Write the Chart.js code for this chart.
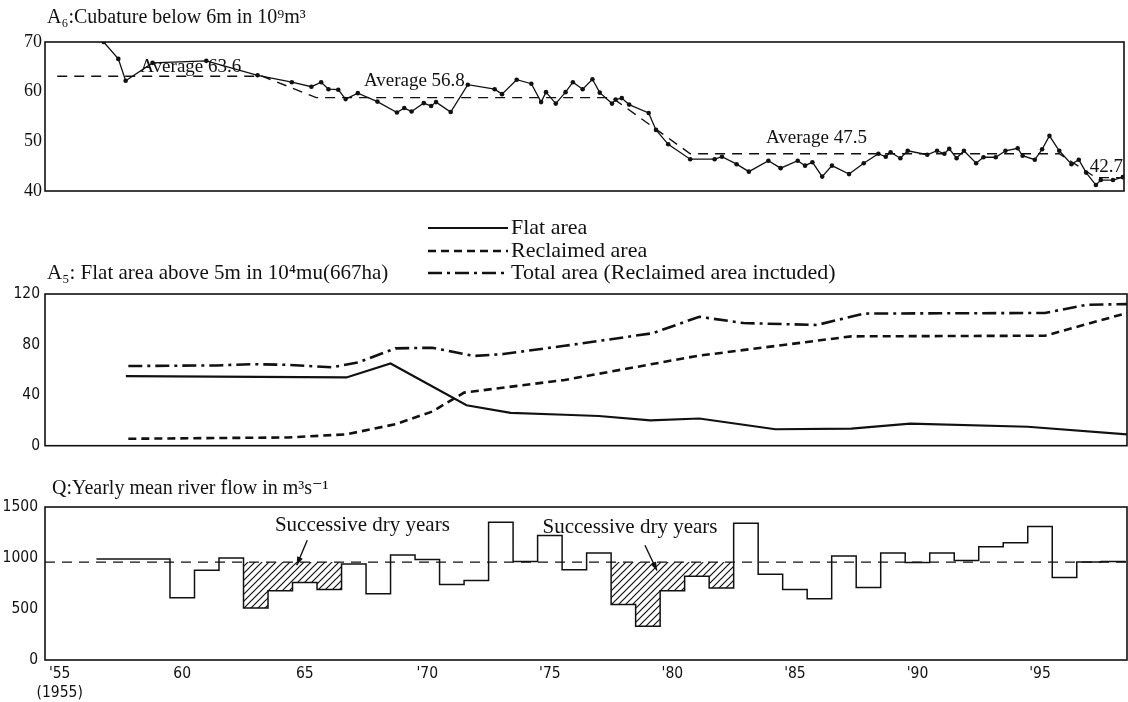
<!DOCTYPE html>
<html>
<head>
<meta charset="utf-8">
<script src="https://cdn.jsdelivr.net/npm/chart.js@4.4.1/dist/chart.umd.min.js"></script>
<style>
  body { margin: 0; background: #fff; width: 1128px; height: 702px; position: relative; overflow: hidden; }
  canvas { position: absolute; left: 0; }
</style>
</head>
<body>
<canvas id="cubChart" width="1128" height="205" style="top:0"></canvas>
<canvas id="areaChart" width="1128" height="255" style="top:205px"></canvas>
<canvas id="flowChart" width="1128" height="242" style="top:460px"></canvas>
<script>
// ---- data ----
// A6: cubature below 6 m (10^9 m3)
const cubYears = [1956.8, 1957.4, 1957.7, 1958.8, 1961.0, 1963.1, 1964.5, 1965.3, 1965.7, 1966.0,
  1966.4, 1966.7, 1967.2, 1968.0, 1968.8, 1969.1, 1969.4, 1969.9, 1970.2, 1970.4,
  1971.0, 1971.7, 1972.8, 1973.1, 1973.7, 1974.3, 1974.7, 1974.9, 1975.3, 1975.7,
  1976.0, 1976.4, 1976.8, 1977.1, 1977.6, 1977.75, 1978.0, 1978.3, 1979.1, 1979.4,
  1979.9, 1980.8, 1981.8, 1982.1, 1982.7, 1983.2, 1984.0, 1984.5, 1985.2, 1985.5,
  1985.8, 1986.2, 1986.6, 1987.3, 1987.9, 1988.5, 1988.8, 1989.0, 1989.4, 1989.7,
  1990.5, 1990.9, 1991.2, 1991.4, 1991.7, 1992.0, 1992.5, 1992.8, 1993.3, 1993.7,
  1994.2, 1994.4, 1994.9, 1995.2, 1995.5, 1995.9, 1996.4, 1996.7, 1997.0, 1997.4,
  1997.6, 1998.1, 1998.5];
const cubValues = [70.0, 66.6, 62.2, 65.8, 66.2, 63.3, 61.9, 61.0, 61.9, 60.5,
  60.4, 58.5, 59.7, 58.0, 55.8, 56.7, 56.0, 57.7, 57.1, 57.9,
  55.9, 61.4, 60.5, 59.5, 62.4, 61.6, 57.9, 59.9, 57.6, 59.9,
  61.9, 60.5, 62.5, 59.8, 57.6, 58.4, 58.7, 57.4, 55.7, 52.3,
  49.4, 46.4, 46.4, 46.9, 45.4, 43.9, 46.1, 44.6, 46.1, 45.1,
  45.8, 42.9, 45.1, 43.4, 45.6, 47.5, 46.9, 47.8, 46.6, 48.1,
  47.3, 48.1, 47.5, 48.5, 46.6, 48.1, 45.6, 46.8, 46.8, 48.1,
  48.6, 47.1, 46.3, 48.4, 51.1, 48.1, 45.4, 46.3, 43.7, 41.2,
  42.2, 42.2, 42.8];
const cubAvgYears = [1954.9, 1963.3, 1965.5, 1977.6, 1980.8, 1995.9, 1997.4, 1998.55];
const cubAvgValues = [63.1, 63.1, 58.8, 58.8, 47.5, 47.5, 42.7, 42.7];
const cubAvgLabels = ['Average 63.6', 'Average 56.8', 'Average 47.5', '42.7'];
const cubTicks = [40, 50, 60, 70];

// A5: flat area above 5 m (10^4 mu)
const flatYears = [1957.7, 1966.7, 1968.5, 1971.6, 1973.4, 1975.6, 1977.0, 1979.1, 1981.1, 1984.2, 1987.3, 1989.7, 1994.5, 1998.55];
const flatValues = [55, 54, 65, 32, 26, 24.5, 23.5, 20, 21.5, 13, 13.5, 17.5, 15, 9];
const reclYears = [1957.8, 1964.3, 1966.7, 1968.7, 1970.2, 1971.5, 1975.6, 1981.0, 1987.3, 1995.2, 1998.55];
const reclValues = [5.5, 6.5, 9, 17, 27, 42, 52, 71, 86.5, 87, 105];
const totalYears = [1957.8, 1961.4, 1962.8, 1964.3, 1966.1, 1967.2, 1968.7, 1970.2, 1971.9, 1973.1,
  1975.6, 1979.2, 1981.1, 1982.9, 1985.9, 1987.8, 1995.2, 1996.9, 1998.55];
const totalValues = [63, 63.5, 64.5, 64, 62, 66, 77, 77.5, 71, 72.5,
  79, 89, 102, 97, 95.5, 104.5, 105, 111.5, 112];
const areaLabels = ['Flat area', 'Reclaimed area', 'Total area (Reclaimed area inctuded)'];
const areaTicks = [0, 40, 80, 120];

// Q: yearly mean river flow (m3/s)
const flowYears = [1957, 1958, 1959, 1960, 1961, 1962, 1963, 1964, 1965, 1966,
  1967, 1968, 1969, 1970, 1971, 1972, 1973, 1974, 1975, 1976,
  1977, 1978, 1979, 1980, 1981, 1982, 1983, 1984, 1985, 1986,
  1987, 1988, 1989, 1990, 1991, 1992, 1993, 1994, 1995, 1996, 1997, 1998];
const flowValues = [990, 990, 990, 610, 880, 1000, 510, 680, 760, 690,
  940, 650, 1030, 985, 740, 780, 1350, 965, 1220, 885,
  1050, 545, 330, 680, 820, 705, 1340, 840, 690, 600,
  1020, 710, 1050, 955, 1050, 975, 1110, 1150, 1310, 810, 960, 965];
const flowMean = 960;
const drySpells = [[1963, 1966], [1978, 1982]];
const drySpellLabel = 'Successive dry years';
const flowTicks = [0, 500, 1000, 1500];

const xTickYears = [1955, 1960, 1965, 1970, 1975, 1980, 1985, 1990, 1995];
const xTickLabels = ["'55", '60', '65', "'70", "'75", "'80", "'85", "'90", "'95"];
const firstYearNote = '(1955)';

// ---- styling ----
const X_MIN = 1954.4, X_MAX = 1998.55;
const INK = '#111';
const SERIF = "'Liberation Serif', 'DejaVu Serif', serif";
const NARROW = "'Liberation Sans Narrow', 'DejaVu Sans Condensed', sans-serif";

Chart.defaults.animation = false;
Chart.defaults.color = INK;

function pts(xs, ys) { return xs.map((x, i) => ({ x: x, y: ys[i] })); }

// each year drawn as a flat step from y-0.5 to y+0.5
function stepPoints(years, values) {
  const out = [];
  years.forEach((yr, i) => { out.push({ x: yr - 0.5, y: values[i] }, { x: yr + 0.5, y: values[i] }); });
  return out;
}

function makeHatch() {
  const c = document.createElement('canvas');
  c.width = 7; c.height = 7;
  const g = c.getContext('2d');
  g.strokeStyle = INK; g.lineWidth = 1.2;
  g.beginPath();
  g.moveTo(-1, 8); g.lineTo(8, -1);
  g.moveTo(-1, 1); g.lineTo(1, -1);
  g.moveTo(6, 8); g.lineTo(8, 6);
  g.stroke();
  return g.createPattern(c, 'repeat');
}

// box around the plot area
const framePlugin = {
  id: 'frame',
  afterDatasetsDraw(chart) {
    const { ctx, chartArea: a } = chart;
    ctx.save();
    ctx.strokeStyle = INK;
    ctx.lineWidth = 1.6;
    ctx.strokeRect(a.left, a.top, a.right - a.left, a.bottom - a.top);
    ctx.restore();
  }
};

// free texts, arrows and the hand-made legend
const notesPlugin = {
  id: 'notes',
  afterDraw(chart, args, opts) {
    const ctx = chart.ctx;
    const xs = chart.scales.x, ys = chart.scales.y;
    ctx.save();
    ctx.fillStyle = INK;
    ctx.strokeStyle = INK;
    ctx.textBaseline = 'middle';
    (opts.texts || []).forEach(t => {
      const px = t.x !== undefined ? xs.getPixelForValue(t.x) : t.px;
      const py = t.y !== undefined ? ys.getPixelForValue(t.y) : t.py;
      ctx.font = t.font;
      ctx.textAlign = t.align || 'left';
      ctx.fillText(t.text, px, py);
    });
    (opts.arrows || []).forEach(a => {
      const x1 = xs.getPixelForValue(a.from[0]), y1 = ys.getPixelForValue(a.from[1]);
      const x2 = xs.getPixelForValue(a.to[0]), y2 = ys.getPixelForValue(a.to[1]);
      const ang = Math.atan2(y2 - y1, x2 - x1);
      ctx.lineWidth = 1.4;
      ctx.beginPath(); ctx.moveTo(x1, y1); ctx.lineTo(x2, y2); ctx.stroke();
      ctx.beginPath();
      ctx.moveTo(x2, y2);
      ctx.lineTo(x2 - 9 * Math.cos(ang - 0.35), y2 - 9 * Math.sin(ang - 0.35));
      ctx.lineTo(x2 - 9 * Math.cos(ang + 0.35), y2 - 9 * Math.sin(ang + 0.35));
      ctx.closePath(); ctx.fill();
    });
    if (opts.legend) {
      const L = opts.legend;
      chart.data.datasets.forEach((ds, i) => {
        const y = L.rows[i];
        ctx.lineWidth = ds.borderWidth;
        ctx.setLineDash(ds.borderDash || []);
        ctx.beginPath(); ctx.moveTo(L.x0, y); ctx.lineTo(L.x1, y); ctx.stroke();
        ctx.setLineDash([]);
        ctx.font = L.font;
        ctx.textAlign = 'left';
        ctx.fillText(ds.label, L.x1 + 3, y);
      });
    }
    ctx.restore();
  }
};

function xAxis(show) {
  const axis = {
    type: 'linear', min: X_MIN, max: X_MAX, display: show,
    grid: { display: false, drawTicks: false },
    border: { display: false },
    afterBuildTicks: s => { s.ticks = xTickYears.map(v => ({ value: v })); },
    ticks: {
      autoSkip: false, maxRotation: 0, padding: 5,
      font: { family: NARROW, size: 15.5 },
      callback: v => {
        const i = xTickYears.indexOf(v);
        return i === 0 ? [xTickLabels[0], firstYearNote] : xTickLabels[i];
      }
    }
  };
  if (show) axis.afterFit = s => { s.height = 42; };
  return axis;
}

function yAxis(min, max, tickList, font, pad) {
  return {
    min: min, max: max,
    grid: { display: false, drawTicks: false },
    border: { display: false },
    afterBuildTicks: s => { s.ticks = tickList.map(v => ({ value: v })); },
    afterFit: s => { s.width = 45; },
    ticks: { padding: pad, font: font, callback: v => String(v) }
  };
}

const basePlugins = { legend: { display: false }, tooltip: { enabled: false } };

// ---- A6 cubature ----
new Chart(document.getElementById('cubChart'), {
  type: 'scatter',
  data: {
    datasets: [
      {
        data: pts(cubYears, cubValues), showLine: true,
        borderColor: INK, borderWidth: 1.3,
        pointRadius: 2.3, pointBackgroundColor: INK, pointBorderWidth: 0
      },
      {
        data: pts(cubAvgYears, cubAvgValues), showLine: true,
        borderColor: INK, borderWidth: 1.4, borderDash: [10, 7], pointRadius: 0
      }
    ]
  },
  options: {
    responsive: false,
    layout: { padding: { top: 42, bottom: 14, right: 1, left: 0 } },
    scales: {
      x: xAxis(false),
      y: yAxis(40, 70, cubTicks, { family: SERIF, size: 18 }, 3)
    },
    plugins: {
      ...basePlugins,
      notes: {
        texts: [
          { text: 'A₆:Cubature below 6m in 10⁹m³', px: 47, py: 18, font: '20px ' + SERIF },
          { text: cubAvgLabels[0], x: 1958.3, y: 65.0, font: '19px ' + SERIF },
          { text: cubAvgLabels[1], x: 1967.45, y: 62.2, font: '19px ' + SERIF },
          { text: cubAvgLabels[2], x: 1983.9, y: 50.7, font: '19px ' + SERIF },
          { text: cubAvgLabels[3], x: 1997.15, y: 44.8, font: '19px ' + SERIF }
        ]
      }
    }
  },
  plugins: [framePlugin, notesPlugin]
});

// ---- A5 flat / reclaimed / total area ----
new Chart(document.getElementById('areaChart'), {
  type: 'scatter',
  data: {
    datasets: [
      { label: areaLabels[0], data: pts(flatYears, flatValues), showLine: true,
        borderColor: INK, borderWidth: 2.2, pointRadius: 0 },
      { label: areaLabels[1], data: pts(reclYears, reclValues), showLine: true,
        borderColor: INK, borderWidth: 2.6, borderDash: [8, 5], pointRadius: 0 },
      { label: areaLabels[2], data: pts(totalYears, totalValues), showLine: true,
        borderColor: INK, borderWidth: 2.6, borderDash: [14, 5, 3, 5], pointRadius: 0 }
    ]
  },
  options: {
    responsive: false,
    layout: { padding: { top: 89, bottom: 13, right: 1, left: 0 } },
    scales: {
      x: xAxis(false),
      y: yAxis(0, 120, areaTicks, { family: NARROW, size: 15.5 }, 5)
    },
    plugins: {
      ...basePlugins,
      notes: {
        texts: [
          { text: 'A₅: Flat area above 5m in 10⁴mu(667ha)', px: 47, py: 68, font: '21px ' + SERIF }
        ],
        legend: { x0: 428, x1: 508, rows: [23, 46, 68], font: '22px ' + SERIF }
      }
    }
  },
  plugins: [framePlugin, notesPlugin]
});

// ---- Q yearly mean river flow ----
const hatch = makeHatch();
const dryDatasets = drySpells.map(([a, b]) => {
  const yrs = flowYears.filter(y => y >= a && y <= b);
  const vals = yrs.map(y => flowValues[flowYears.indexOf(y)]);
  return {
    data: stepPoints(yrs, vals), showLine: true,
    borderWidth: 0, borderColor: 'rgba(0,0,0,0)', pointRadius: 0,
    backgroundColor: hatch, fill: { value: flowMean }
  };
});

new Chart(document.getElementById('flowChart'), {
  type: 'scatter',
  data: {
    datasets: [
      ...dryDatasets,
      { data: stepPoints(flowYears, flowValues), showLine: true,
        borderColor: INK, borderWidth: 1.5, pointRadius: 0 },
      { data: [{ x: X_MIN, y: flowMean }, { x: X_MAX, y: flowMean }], showLine: true,
        borderColor: INK, borderWidth: 1.4, borderDash: [10, 7], pointRadius: 0 }
    ]
  },
  options: {
    responsive: false,
    layout: { padding: { top: 47, bottom: 0, right: 1, left: 0 } },
    scales: {
      x: xAxis(true),
      y: yAxis(0, 1500, flowTicks, { family: NARROW, size: 15.5 }, 7)
    },
    plugins: {
      ...basePlugins,
      notes: {
        texts: [
          { text: 'Q:Yearly mean river flow in m³s⁻¹', px: 52, py: 29, font: '20px ' + SERIF },
          { text: drySpellLabel, x: 1963.78, y: 1322, font: '21px ' + SERIF },
          { text: drySpellLabel, x: 1974.7, y: 1303, font: '21px ' + SERIF }
        ],
        arrows: [
          { from: [1965.1, 1174], to: [1964.67, 928] },
          { from: [1978.88, 1125], to: [1979.37, 878] }
        ]
      }
    }
  },
  plugins: [framePlugin, notesPlugin]
});
</script>
</body>
</html>
